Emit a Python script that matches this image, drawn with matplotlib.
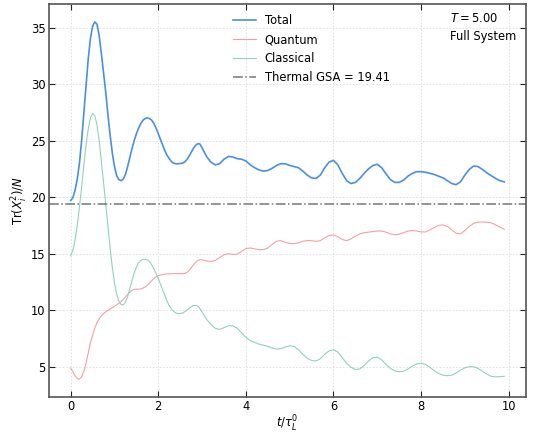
import numpy as np
import matplotlib
matplotlib.use("Agg")
import matplotlib.pyplot as plt

t = np.round(np.concatenate([np.arange(0, 3.001, 0.05),
                             np.arange(3.1, 9.95, 0.1)]), 2)

total = [19.7, 19.95, 20.6, 21.6, 23.0, 25.0, 27.4, 29.9, 32.2, 34.0,
         35.1, 35.5, 35.3, 34.3, 32.7, 31.0, 29.3, 27.3, 25.5, 23.9,
         22.7, 21.9, 21.55, 21.45, 21.6, 22.0, 22.7, 23.5, 24.3, 25.0,
         25.6, 26.1, 26.5, 26.8, 26.95, 27.0, 26.95, 26.8, 26.5, 26.1,
         25.6, 25.1, 24.6, 24.1, 23.7, 23.4, 23.15, 23.0, 22.95, 22.95,
         22.97, 23.0, 23.1, 23.3, 23.6, 23.95, 24.3, 24.58, 24.72, 24.7,
         24.35,
         23.6, 23.1, 22.85, 22.95, 23.35, 23.6, 23.55, 23.4, 23.35,
         23.2, 22.85, 22.6, 22.4, 22.3, 22.35, 22.55, 22.8, 22.95, 22.95,
         22.8, 22.7, 22.6, 22.3, 21.95, 21.7, 21.65, 21.95, 22.6, 23.1,
         23.25, 22.85, 22.1, 21.45, 21.2, 21.3, 21.65, 22.1, 22.5, 22.8,
         22.9, 22.6, 22.05, 21.55, 21.3, 21.3, 21.5, 21.85, 22.1, 22.25,
         22.25, 22.2, 22.1, 22.0, 21.85, 21.7, 21.45, 21.2, 21.1, 21.35,
         21.95, 22.45, 22.75, 22.7, 22.45, 22.15, 21.9, 21.65, 21.45, 21.35]

quantum = [4.87, 4.55, 4.2, 3.95, 3.9, 4.1, 4.6, 5.3, 6.2, 7.1,
           7.8, 8.4, 8.9, 9.25, 9.5, 9.7, 9.85, 9.98, 10.1, 10.22,
           10.35, 10.47, 10.6, 10.77, 10.95, 11.18, 11.4, 11.6, 11.75, 11.83,
           11.86, 11.86, 11.88, 11.95, 12.05, 12.2, 12.4, 12.6, 12.8, 12.95,
           13.05, 13.1, 13.15, 13.18, 13.2, 13.21, 13.22, 13.23, 13.23, 13.23,
           13.23, 13.23, 13.25, 13.33, 13.5, 13.75, 14.0, 14.22, 14.4, 14.46,
           14.45,
           14.35, 14.3, 14.4, 14.65, 14.9, 15.0, 14.92, 14.95, 15.2,
           15.45, 15.5, 15.42, 15.35, 15.35, 15.5, 15.8, 16.1, 16.15, 16.0,
           15.9, 15.88, 15.95, 16.1, 16.15, 16.15, 16.08, 16.15, 16.4, 16.6,
           16.65, 16.5, 16.25, 16.15, 16.3, 16.55, 16.75, 16.85, 16.9, 16.95,
           17.0, 17.0, 16.9, 16.75, 16.67, 16.72, 16.85, 17.0, 17.04, 17.0,
           16.92, 16.92, 17.1, 17.3, 17.5, 17.54, 17.4, 17.1, 16.8, 16.75,
           17.05, 17.4, 17.68, 17.78, 17.8, 17.78, 17.72, 17.55, 17.35, 17.15]

classical = [14.8, 15.3, 16.2, 17.5, 19.1, 20.9, 22.8, 24.6, 26.0, 27.0,
             27.4, 27.2, 26.4, 25.0, 23.2, 21.3, 19.4, 17.4, 15.5, 13.8,
             12.4, 11.4, 10.8, 10.5, 10.45, 10.7, 11.2, 11.9, 12.6, 13.3,
             13.8, 14.2, 14.4, 14.5, 14.5, 14.45, 14.3, 14.0, 13.65, 13.25,
             12.8, 12.3, 11.8, 11.3, 10.8, 10.4, 10.1, 9.9, 9.75, 9.7,
             9.7, 9.75, 9.85, 10.0, 10.15, 10.3, 10.4, 10.42, 10.35, 10.15,
             9.85,
             9.2, 8.75, 8.4, 8.3, 8.45, 8.62, 8.62, 8.4, 8.0,
             7.6, 7.3, 7.15, 7.0, 6.9, 6.8, 6.65, 6.55, 6.6, 6.75,
             6.85, 6.8, 6.5, 6.1, 5.75, 5.55, 5.5, 5.7, 6.1, 6.4,
             6.5, 6.3, 5.8, 5.3, 4.95, 4.75, 4.8, 5.1, 5.5, 5.8,
             5.85, 5.6, 5.2, 4.85, 4.62, 4.55, 4.6, 4.8, 5.05, 5.25,
             5.3, 5.2, 4.95, 4.65, 4.4, 4.25, 4.2, 4.25, 4.45, 4.7,
             4.9, 5.0, 5.0, 4.85, 4.6, 4.35, 4.15, 4.1, 4.12, 4.15]

thermal_gsa = 19.41
temperature = 5.00

fs = 8.3
fig = plt.figure(figsize=(5.33, 4.37), dpi=100)
ax = fig.add_axes([49/533, 1-397/437, (526-49)/533, (397-4)/437])

ax.plot(t, total, color='#4a90e2', lw=1.2, label='Total')
ax.plot(t, quantum, color='#f4a0a0', lw=0.8, label='Quantum')
ax.plot(t, classical, color='#8dd4b8', lw=0.8, label='Classical')
ax.axhline(thermal_gsa, color='#777777', lw=1.1, ls='-.',
           label=f'Thermal GSA = {thermal_gsa:.2f}')

ax.set_xticks([0, 2, 4, 6, 8, 10])
ax.set_yticks([5, 10, 15, 20, 25, 30, 35])
ax.tick_params(direction='in', top=True, right=True, labelsize=fs, length=4,
               width=0.8, color='#222222', pad=2.5)
ax.grid(True, color='#dddddd', lw=0.6, ls=(0, (2, 2)))
for s in ax.spines.values():
    s.set_color('#555555')
    s.set_linewidth(1.2)

ax.set_xlabel(r'$t/\tau_L^0$', fontsize=fs, labelpad=0)
ax.set_ylabel(r'$\mathrm{Tr}(X_i^2)/N$', fontsize=fs, labelpad=0.5)

ax.legend(loc='upper left', bbox_to_anchor=(0.363, 1.0), frameon=False,
          fontsize=fs)
ax.text(0.841, 0.962, rf'$T = {temperature:.2f}$', transform=ax.transAxes,
        fontsize=fs, ha='left', va='center')
ax.text(0.841, 0.917, 'Full System', transform=ax.transAxes,
        fontsize=fs, ha='left', va='center')

fig.savefig('out.png', dpi=100)
